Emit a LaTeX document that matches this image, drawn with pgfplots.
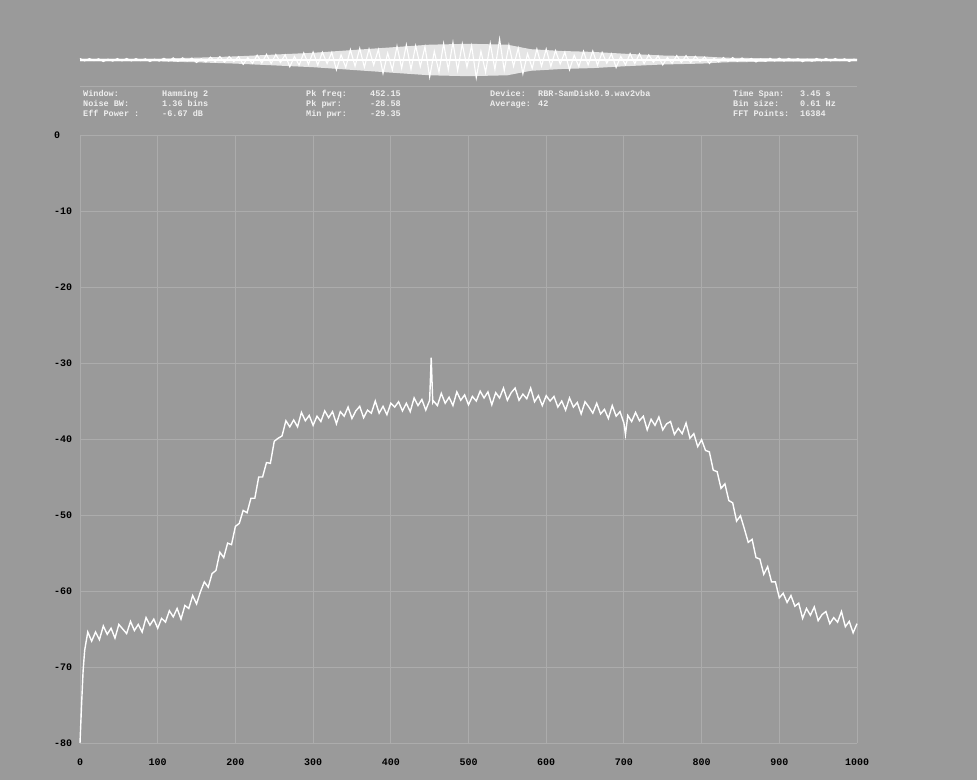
\documentclass[border=0pt]{standalone}
\usepackage{fontspec}
\setmonofont{Liberation Mono}
\usepackage{pgfplots}
\pgfplotsset{compat=1.18}
\definecolor{bgc}{RGB}{154,154,154}
\definecolor{gridc}{RGB}{172,172,172}
\definecolor{txtc}{RGB}{238,238,238}
\begin{document}
\begin{tikzpicture}
\fill[bgc] (0pt,0pt) rectangle (977pt,780pt);
\useasboundingbox (0pt,0pt) rectangle (977pt,780pt);
% header separator
\draw[gridc, line width=0.8pt] (80pt,694pt) -- (857pt,694pt);
% header text
\begin{scope}[every node/.style={anchor=base west, inner sep=0pt, text=txtc, font=\ttfamily\bfseries\fontsize{8.5}{9}\selectfont}]
\node at (83pt,683pt) {Window:};      \node at (162pt,683pt) {Hamming 2};
\node at (83pt,673pt) {Noise BW:};    \node at (162pt,673pt) {1.36 bins};
\node at (83pt,663pt) {Eff Power :};  \node at (162pt,663pt) {-6.67 dB};
\node at (306pt,683pt) {Pk freq:};    \node at (370pt,683pt) {452.15};
\node at (306pt,673pt) {Pk pwr:};     \node at (370pt,673pt) {-28.58};
\node at (306pt,663pt) {Min pwr:};    \node at (370pt,663pt) {-29.35};
\node at (490pt,683pt) {Device:};     \node at (538pt,683pt) {RBR-SamDisk0.9.wav2vba};
\node at (490pt,673pt) {Average:};    \node at (538pt,673pt) {42};
\node at (733pt,683pt) {Time Span:};  \node at (800pt,683pt) {3.45 s};
\node at (733pt,673pt) {Bin size:};   \node at (800pt,673pt) {0.61 Hz};
\node at (733pt,663pt) {FFT Points:}; \node at (800pt,663pt) {16384};
\end{scope}
% waveform strip
\begin{axis}[at={(80pt,695pt)}, anchor=south west, scale only axis,
  width=777pt, height=50pt, xmin=0, xmax=1000, ymin=-25, ymax=25,
  hide axis, clip=false]
% envelope band
\addplot[draw=none, fill=white, fill opacity=0.75] coordinates {
(0,1.4)(100,1.4)(150,2.3)(200,3.6)(250,5.4)(300,7.2)(350,9.9)(400,12.6)(450,15.3)(500,16.2)
(550,15.3)(580,10.8)(620,9.0)(660,8.1)(700,6.3)(750,4.5)(800,3.6)(830,2.3)(900,1.6)(1000,1.4)
(1000,-1.4)(900,-1.6)(830,-2.3)(800,-3.6)(750,-4.5)(700,-6.3)(660,-8.1)(620,-9.0)(580,-10.8)(550,-15.3)
(500,-16.2)(450,-15.3)(400,-12.6)(350,-9.9)(300,-7.2)(250,-5.4)(200,-3.6)(150,-2.3)(100,-1.4)(0,-1.4)
};
\addplot[white, line width=2.2pt] coordinates {(0,0) (1000,0)};
\addplot[white, line width=1.1pt] coordinates {
(0,1.5)(6,-0.9)(12,1.4)(18,-0.6)(24,1.2)(30,-1.5)(36,0.8)(42,-1.1)(48,1.4)(54,-0.8)
(60,1.5)(66,-0.9)(72,1.4)(78,-0.6)(84,1.2)(90,-1.5)(96,0.8)(102,-1.1)(108,1.7)(114,-1.1)
(120,2.1)(126,-1.4)(132,2.2)(138,-1.0)(144,1.9)(150,-2.5)(156,1.3)(162,-2.0)(168,2.9)(174,-1.8)
(180,3.4)(186,-2.2)(192,3.4)(198,-1.6)(204,3.3)(210,-4.4)(216,2.3)(222,-3.4)(228,4.8)(234,-3.0)
(240,5.6)(246,-3.5)(252,5.5)(258,-2.5)(264,5.2)(270,-6.8)(276,3.5)(282,-5.1)(288,7.1)(294,-4.3)
(300,8.0)(306,-5.0)(312,7.8)(318,-3.6)(324,7.6)(330,-9.8)(336,5.1)(342,-7.4)(348,10.4)(354,-6.2)
(360,11.6)(366,-7.2)(372,11.1)(378,-5.1)(384,10.4)(390,-13.4)(396,6.9)(402,-9.9)(408,13.8)(414,-8.2)
(420,15.2)(426,-9.3)(432,14.3)(438,-6.5)(444,13.3)(450,-17.0)(456,8.6)(462,-12.1)(468,16.5)(474,-9.6)
(480,17.6)(486,-10.6)(492,16.1)(498,-7.2)(504,14.3)(510,-17.8)(516,8.8)(522,-12.3)(528,16.6)(534,-9.5)
(540,21.0)(546,-10.3)(552,15.0)(558,-6.3)(564,11.8)(570,-13.8)(576,6.3)(582,-8.3)(588,11.0)(594,-6.2)
(600,11.0)(606,-6.4)(612,9.4)(618,-4.0)(624,7.9)(630,-9.8)(636,4.8)(642,-6.6)(648,8.8)(654,-5.0)
(660,9.0)(666,-5.2)(672,7.6)(678,-3.2)(684,6.2)(690,-7.5)(696,3.6)(702,-4.8)(708,6.4)(714,-3.5)
(720,6.2)(726,-3.6)(732,5.1)(738,-2.2)(744,4.2)(750,-5.0)(756,2.5)(762,-3.3)(768,4.4)(774,-2.5)
(780,4.4)(786,-2.6)(792,3.7)(798,-1.6)(804,3.0)(810,-3.5)(816,1.6)(822,-2.0)(828,2.5)(834,-1.3)
(840,2.4)(846,-1.4)(852,2.0)(858,-0.9)(864,1.6)(870,-2.0)(876,1.0)(882,-1.3)(888,1.7)(894,-1.0)
(900,1.8)(906,-1.1)(912,1.6)(918,-0.7)(924,1.4)(930,-1.7)(936,0.8)(942,-1.2)(948,1.5)(954,-0.9)
(960,1.6)(966,-0.9)(972,1.4)(978,-0.6)(984,1.2)(990,-1.5)(996,0.8)(1000,0)
};
\end{axis}
% spectrum
\begin{axis}[at={(80pt,37pt)}, anchor=south west, scale only axis,
  width=777pt, height=608pt,
  xmin=0, xmax=1000, ymin=-80, ymax=0,
  xtick={0,100,...,1000}, ytick={-80,-70,...,0},
  xticklabels={0,100,200,300,400,500,600,700,800,900,1000},
  yticklabels={-80,-70,-60,-50,-40,-30,-20,-10,0},
  grid=major, major grid style={gridc, line width=0.9pt},
  axis line style={draw=none}, major tick length=0pt,
  ticklabel style={font=\ttfamily\bfseries\fontsize{10}{10}\selectfont, text=black, inner sep=0pt},
  yticklabel style={anchor=west, xshift=-26pt},
  xticklabel style={anchor=north, yshift=-16pt},
  clip=false]
\addplot[white, line width=1.4pt] coordinates {
(0,-80)(2,-75)(4,-70.5)(6,-67.8)(8,-66.6)
(10,-65.4)(15,-66.6)(20,-65.4)(25,-66.4)(30,-64.6)(35,-65.7)(40,-64.9)(45,-66.2)(50,-64.4)(55,-65.0)
(60,-65.6)(65,-64.0)(70,-65.2)(75,-64.4)(80,-65.4)(85,-63.5)(90,-64.5)(95,-63.7)(100,-64.9)(105,-63.6)
(110,-64.1)(115,-62.6)(120,-63.4)(125,-62.3)(130,-63.7)(135,-61.9)(140,-62.3)(145,-60.6)(150,-61.7)(155,-60.1)
(160,-58.8)(165,-59.5)(170,-57.7)(175,-57.3)(180,-54.9)(185,-55.6)(190,-53.7)(195,-53.9)(200,-51.5)(205,-51.1)
(210,-49.4)(215,-49.7)(220,-47.8)(225,-47.8)(230,-45.0)(235,-45.0)(240,-43.1)(245,-43.2)(250,-40.3)(255,-39.9)
(260,-39.6)(265,-37.6)(270,-38.4)(275,-37.5)(280,-38.4)(285,-36.5)(290,-37.6)(295,-36.9)(300,-38.2)(305,-37.0)
(310,-37.7)(315,-36.3)(320,-37.2)(325,-36.4)(330,-38.0)(335,-36.4)(340,-37.0)(345,-35.8)(350,-37.3)(355,-36.3)
(360,-35.7)(365,-37.2)(370,-36.2)(375,-36.6)(380,-35.0)(385,-36.6)(390,-35.7)(395,-36.8)(400,-35.3)(405,-35.8)
(410,-35.1)(415,-36.3)(420,-35.3)(425,-36.4)(430,-34.6)(435,-35.6)(440,-34.8)(445,-36.2)(450,-34.9)(452,-29.3)
(454,-35.2)(455,-35.0)(460,-35.6)(465,-34.0)(470,-35.3)(475,-34.5)(480,-35.6)(485,-33.8)(490,-34.9)(495,-34.2)
(500,-35.5)(505,-34.4)(510,-35.0)(515,-33.7)(520,-34.6)(525,-33.8)(530,-35.5)(535,-33.9)(540,-34.6)(545,-33.3)
(550,-34.9)(555,-33.9)(560,-33.3)(565,-34.9)(570,-34.1)(575,-34.7)(580,-33.3)(585,-35.1)(590,-34.3)(595,-35.6)
(600,-34.3)(605,-35.0)(610,-34.4)(615,-35.8)(620,-35.0)(625,-36.2)(630,-34.6)(635,-35.8)(640,-35.2)(645,-36.7)
(650,-35.1)(655,-35.8)(660,-36.6)(665,-35.3)(670,-36.7)(675,-36.1)(680,-37.3)(685,-35.6)(690,-37.0)(695,-36.4)
(700,-37.9)(702,-39.4)(705,-36.9)(710,-37.7)(715,-36.5)(720,-37.6)(725,-37.0)(730,-38.8)(735,-37.4)(740,-38.2)
(745,-37.1)(750,-38.8)(755,-38.0)(760,-37.7)(765,-39.4)(770,-38.6)(775,-39.3)(780,-37.9)(785,-39.9)(790,-39.3)
(795,-41.0)(800,-40.1)(805,-41.5)(810,-41.7)(815,-44.1)(820,-44.3)(825,-46.5)(830,-45.9)(835,-48.1)(840,-48.4)
(845,-50.8)(850,-50.1)(855,-51.8)(860,-53.6)(865,-53.2)(870,-55.6)(875,-55.8)(880,-57.8)(885,-56.8)(890,-58.8)
(895,-58.8)(900,-60.9)(905,-60.3)(910,-61.5)(915,-60.6)(920,-62.0)(925,-61.6)(930,-63.6)(935,-62.3)(940,-63.2)
(945,-62.1)(950,-63.9)(955,-63.1)(960,-62.7)(965,-64.3)(970,-63.5)(975,-64.1)(980,-62.7)(985,-64.7)(990,-64.0)
(995,-65.5)(1000,-64.3)
};
\end{axis}
\end{tikzpicture}
\end{document}
